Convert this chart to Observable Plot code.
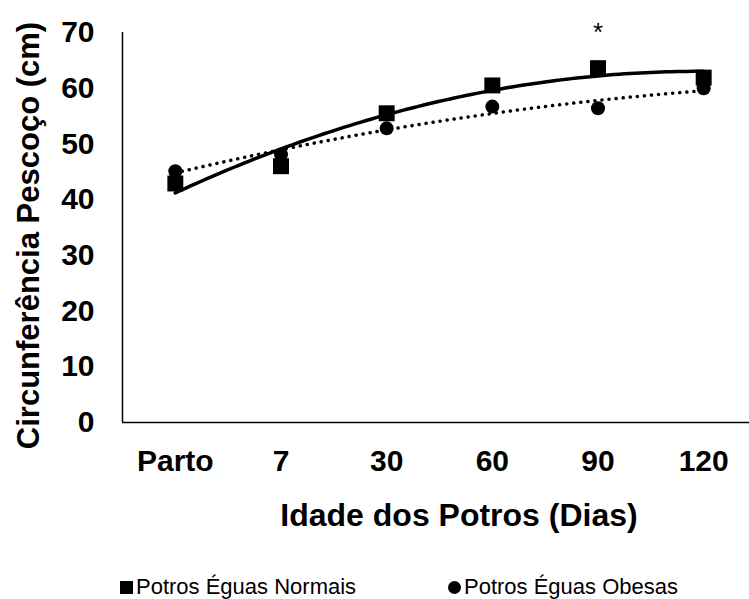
<!DOCTYPE html>
<html>
<head>
<meta charset="utf-8">
<script src="https://cdn.jsdelivr.net/npm/d3@7"></script>
<script src="https://cdn.jsdelivr.net/npm/@observablehq/plot@0.6"></script>
<style>
  body { margin: 0; background: #fff; }
  #chart { width: 749px; height: 555px; }
  .legend { position: relative; width: 749px; height: 44px; font-family: "Liberation Sans", Arial, sans-serif; font-size: 22px; color: #000; }
  .legend .item { position: absolute; top: 21px; display: flex; align-items: center; white-space: nowrap; line-height: 22px; }
  .legend .sq { width: 13px; height: 13px; background: #000; margin-right: 3px; }
  .legend .ci { width: 13px; height: 13px; background: #000; border-radius: 50%; margin-right: 3px; }
</style>
</head>
<body>
<div id="chart"></div>
<script>
const categories = ["Parto", "7", "30", "60", "90", "120"];
const normais = [42.9, 46.0, 55.5, 60.5, 63.6, 61.9];
const obesas = [45.1, 48.1, 52.8, 56.7, 56.4, 60.0];
const yTicks = [0, 10, 20, 30, 40, 50, 60, 70];
const significance = [{category: "90", label: "*", value: 70.0}];
const seriesNames = ["Potros Éguas Normais", "Potros Éguas Obesas"];
const xTitle = "Idade dos Potros (Dias)";
const yTitle = "Circunferência Pescoço (cm)";

// category axis: categories sit at 0..n-1 with half-band padding on each side
const xDomain = [-0.5, categories.length - 0.5];

// Excel-style order-2 polynomial trendline (least squares)
function polyFit2(ys) {
  let S = [0, 0, 0, 0, 0], T = [0, 0, 0];
  ys.forEach((y, x) => {
    for (let k = 0; k < 5; k++) S[k] += Math.pow(x, k);
    for (let k = 0; k < 3; k++) T[k] += Math.pow(x, k) * y;
  });
  const A = [[S[0], S[1], S[2]], [S[1], S[2], S[3]], [S[2], S[3], S[4]]];
  const b = T.slice();
  for (let i = 0; i < 3; i++) {
    for (let j = i + 1; j < 3; j++) {
      const f = A[j][i] / A[i][i];
      for (let k = i; k < 3; k++) A[j][k] -= f * A[i][k];
      b[j] -= f * b[i];
    }
  }
  const c = [0, 0, 0];
  for (let i = 2; i >= 0; i--) {
    let s = b[i];
    for (let k = i + 1; k < 3; k++) s -= A[i][k] * c[k];
    c[i] = s / A[i][i];
  }
  return x => c[0] + c[1] * x + c[2] * x * x;
}
function trend(ys) {
  const f = polyFit2(ys);
  return d3.range(0, ys.length - 1 + 1e-9, 0.05).map(x => ({x, y: f(x)}));
}

const ptsN = normais.map((v, i) => ({x: i, y: v}));
const ptsO = obesas.map((v, i) => ({x: i, y: v}));

const plot = Plot.plot({
  width: 749,
  height: 555,
  marginLeft: 122,
  marginRight: 0,
  marginTop: 32,
  marginBottom: 133,
  style: {fontFamily: "Liberation Sans, Arial, sans-serif", fontSize: "30px", fontWeight: "bold", color: "#000", background: "#fff", overflow: "visible"},
  x: {type: "linear", domain: xDomain, range: [122, 756]},
  y: {domain: [0, 70], range: [422, 32]},
  marks: [
    Plot.ruleY([0], {stroke: "#000", strokeWidth: 1.5}),
    Plot.ruleX([xDomain[0]], {y1: 0, y2: 70, stroke: "#000", strokeWidth: 1.5}),
    Plot.axisY({ticks: yTicks, tickSize: 0, tickPadding: 28, fontSize: 30, label: null}),
    Plot.axisX({ticks: d3.range(categories.length), tickFormat: i => categories[i], tickSize: 0, tickPadding: 27, fontSize: 30, label: null}),
    Plot.dot(ptsO, {x: "x", y: "y", r: 7, fill: "#000", symbol: "circle"}),
    Plot.dot(ptsN, {x: "x", y: "y", r: 9, fill: "#000", symbol: "square"}),
    Plot.line(trend(obesas), {x: "x", y: "y", stroke: "#000", strokeWidth: 3.5, strokeDasharray: "0.1 7", strokeLinecap: "round", curve: "linear"}),
    Plot.line(trend(normais), {x: "x", y: "y", stroke: "#000", strokeWidth: 3.5, curve: "linear"}),
    Plot.text(significance, {x: d => categories.indexOf(d.category), y: "value", text: "label", fontSize: 26, fontWeight: "normal"}),
    Plot.text([xTitle], {frameAnchor: "bottom", lineAnchor: "middle", textAnchor: "middle", dx: 23, dy: 93, fontSize: 32}),
    Plot.text([yTitle], {frameAnchor: "left", rotate: -90, textAnchor: "middle", lineAnchor: "middle", dx: -93, dy: 8, fontSize: 31})
  ]
});
document.getElementById("chart").appendChild(plot);

const legend = document.createElement("div");
legend.className = "legend";
legend.innerHTML =
  `<div class="item" style="left:120px"><span class="sq"></span>${seriesNames[0]}</div>` +
  `<div class="item" style="left:448px"><span class="ci"></span>${seriesNames[1]}</div>`;
document.body.appendChild(legend);
</script>
</body>
</html>
